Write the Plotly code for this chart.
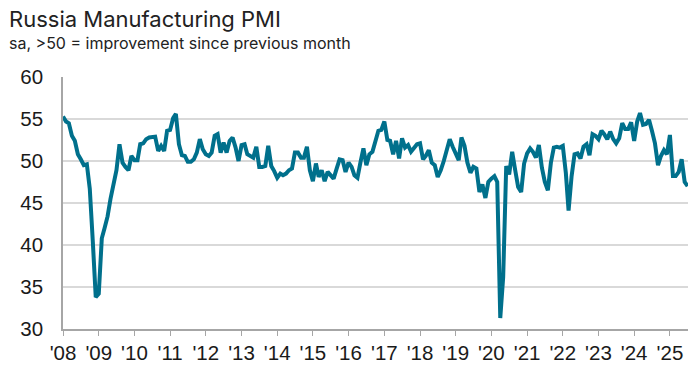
import pandas as pd
import plotly.graph_objects as go

# Monthly Russia Manufacturing PMI, Jan 2008 onwards
start_month = "2008-01-01"
pmi = [
    55.3, 54.7, 54.5, 53.0, 52.4, 50.8, 50.2, 49.5, 49.6, 46.7, 40.4, 33.8,  # 2008
    34.2, 40.8, 42.0, 43.4, 45.5, 47.5, 48.9, 52.0, 49.8, 49.3, 48.9, 50.6,  # 2009
    50.1, 50.1, 52.0, 52.1, 52.6, 52.8, 52.9, 52.9, 51.2, 51.8, 51.2, 53.6,  # 2010
    53.7, 55.1, 55.6, 52.0, 50.7, 50.6, 49.9, 49.9, 50.2, 51.0, 52.6, 51.4,  # 2011
    50.8, 50.6, 51.0, 53.0, 53.2, 51.0, 52.2, 51.0, 52.4, 52.8, 51.6, 50.0,  # 2012
    51.9, 52.0, 50.8, 50.6, 50.4, 51.7, 49.3, 49.3, 49.4, 51.8, 49.4, 48.8,  # 2013
    48.0, 48.5, 48.3, 48.5, 48.9, 49.1, 51.0, 51.0, 50.4, 50.4, 51.7, 48.9,  # 2014
    47.6, 49.7, 48.1, 48.9, 47.6, 48.7, 48.3, 47.9, 49.1, 50.2, 50.1, 48.7,  # 2015
    49.8, 49.3, 48.3, 48.0, 49.8, 51.5, 49.5, 50.8, 51.1, 52.4, 53.6, 53.7,  # 2016
    54.7, 52.5, 52.4, 50.8, 52.4, 50.3, 52.7, 51.6, 51.9, 51.1, 51.5, 52.0,  # 2017
    52.1, 50.2, 50.6, 51.3, 49.8, 49.5, 48.1, 48.9, 50.0, 51.3, 52.6, 51.7,  # 2018
    50.9, 50.1, 52.8, 51.8, 49.8, 48.6, 49.3, 49.1, 46.3, 47.2, 45.6, 47.5,  # 2019
    47.9, 48.2, 47.5, 31.3, 36.2, 49.4, 48.4, 51.1, 48.9, 46.9, 46.3, 49.7,  # 2020
    50.9, 51.5, 51.1, 50.4, 51.9, 49.2, 47.5, 46.5, 49.8, 51.6, 51.7, 51.6,  # 2021
    51.8, 48.6, 44.1, 48.2, 50.8, 50.9, 50.3, 51.7, 52.0, 50.7, 53.2, 53.0,  # 2022
    52.6, 53.6, 53.2, 52.6, 53.5, 52.6, 52.1, 52.7, 54.5, 53.8, 53.8, 54.6,  # 2023
    52.4, 54.7, 55.7, 54.3, 54.4, 54.9, 53.6, 52.1, 49.5, 50.6, 51.3, 50.8,  # 2024
    53.1, 48.2, 48.2, 48.7, 50.2, 47.5, 47.0,                                # 2025
]
tick_years = list(range(2008, 2026))
tick_labels = ["'" + str(y)[2:] for y in tick_years]
y_ticks = [30, 35, 40, 45, 50, 55, 60]

title_text = "Russia Manufacturing PMI"
subtitle_text = "sa, >50 = improvement since previous month"

dates = pd.date_range(start_month, periods=len(pmi), freq="MS")
tick_vals = [f"{y}-01-01" for y in tick_years]

fig = go.Figure()
fig.add_trace(go.Scatter(
    x=dates, y=pmi, mode="lines",
    line=dict(color="#00708C", width=4),
    hoverinfo="x+y", showlegend=False,
))

fig.update_layout(
    width=700, height=376,
    margin=dict(l=63, r=12, t=77, b=43),
    paper_bgcolor="white", plot_bgcolor="white",
    font=dict(family="Liberation Sans, Arial, sans-serif", color="#1a1a1a"),
    xaxis=dict(
        range=["2008-01-01", "2025-07-05"],
        tickmode="array", tickvals=tick_vals, ticktext=tick_labels,
        ticks="outside", ticklen=5, tickcolor="#a6a6a6", tickwidth=1,
        showline=True, linecolor="#a6a6a6", linewidth=1.5,
        showgrid=False, zeroline=False,
        tickfont=dict(size=20.5, color="#1a1a1a"),
        tickangle=0,
    ),
    yaxis=dict(
        range=[30, 60],
        tickmode="array", tickvals=y_ticks,
        ticks="", ticklabelstandoff=14,
        showline=True, linecolor="#a6a6a6", linewidth=1.5,
        showgrid=True, gridcolor="#d9d9d9", gridwidth=1.5,
        zeroline=False,
        tickfont=dict(size=20.5, color="#1a1a1a"),
    ),
    annotations=[
        dict(text=title_text, xref="paper", yref="paper", x=-0.09, y=1.232,
             xanchor="left", yanchor="middle", showarrow=False,
             font=dict(family="Inter, sans-serif", size=22, color="#222222")),
        dict(text=subtitle_text, xref="paper", yref="paper", x=-0.09, y=1.133,
             xanchor="left", yanchor="middle", showarrow=False,
             font=dict(family="Inter, sans-serif", size=16, color="#222222")),
    ],
)

fig.write_html(
    "out.html",
    config={"displayModeBar": False},
    post_script="document.body.style.margin='0';document.body.style.overflow='hidden';",
)
